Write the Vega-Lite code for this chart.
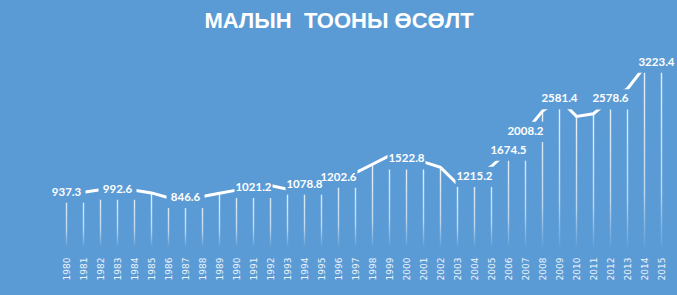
{
  "$schema": "https://vega.github.io/schema/vega-lite/v6.json",
  "width": 612,
  "height": 199,
  "autosize": {"type": "none"},
  "padding": {"left": 58, "top": 47, "right": 7, "bottom": 49},
  "background": "#5B9BD5",
  "config": {"view": {"stroke": null}},
  "title": {
    "text": "МАЛЫН\u00a0 ТООНЫ ӨСӨЛТ",
    "color": "white",
    "font": "Liberation Sans",
    "fontSize": 22,
    "fontWeight": "bold",
    "anchor": "middle",
    "dx": -25,
    "offset": -3,
    "baseline": "alphabetic"
  },
  "data": {
    "values": [
      {"year": 1980, "value": 937.3, "labeled": true},
      {"year": 1981, "value": 946, "labeled": false},
      {"year": 1982, "value": 988, "labeled": false},
      {"year": 1983, "value": 992.6, "labeled": true},
      {"year": 1984, "value": 980, "labeled": false},
      {"year": 1985, "value": 934, "labeled": false},
      {"year": 1986, "value": 848, "labeled": false},
      {"year": 1987, "value": 846.6, "labeled": true},
      {"year": 1988, "value": 872, "labeled": false},
      {"year": 1989, "value": 927, "labeled": false},
      {"year": 1990, "value": 983, "labeled": false},
      {"year": 1991, "value": 1021.2, "labeled": true},
      {"year": 1992, "value": 1065, "labeled": false},
      {"year": 1993, "value": 1000, "labeled": false},
      {"year": 1994, "value": 1078.8, "labeled": true},
      {"year": 1995, "value": 1140, "labeled": false},
      {"year": 1996, "value": 1202.6, "labeled": true},
      {"year": 1997, "value": 1285, "labeled": false},
      {"year": 1998, "value": 1438, "labeled": false},
      {"year": 1999, "value": 1590, "labeled": false},
      {"year": 2000, "value": 1522.8, "labeled": true},
      {"year": 2001, "value": 1480, "labeled": false},
      {"year": 2002, "value": 1382, "labeled": false},
      {"year": 2003, "value": 1090, "labeled": false},
      {"year": 2004, "value": 1215.2, "labeled": true},
      {"year": 2005, "value": 1400, "labeled": false},
      {"year": 2006, "value": 1674.5, "labeled": true},
      {"year": 2007, "value": 2008.2, "labeled": true},
      {"year": 2008, "value": 2372, "labeled": false},
      {"year": 2009, "value": 2581.4, "labeled": true},
      {"year": 2010, "value": 2279, "labeled": false},
      {"year": 2011, "value": 2326, "labeled": false},
      {"year": 2012, "value": 2578.6, "labeled": true},
      {"year": 2013, "value": 2765, "labeled": false},
      {"year": 2014, "value": 3150, "labeled": false},
      {"year": 2015, "value": 3223.4, "labeled": true}
    ]
  },
  "encoding": {
    "x": {
      "field": "year",
      "type": "ordinal",
      "scale": {"type": "point", "padding": 0.5},
      "axis": {
        "title": null,
        "domain": false,
        "ticks": false,
        "grid": false,
        "labelAngle": -90,
        "labelPadding": 11,
        "labelFont": "DejaVu Sans",
        "labelFontSize": 9,
        "labelColor": "#eef4fb"
      }
    },
    "y": {
      "field": "value",
      "type": "quantitative",
      "scale": {"domain": [0, 3500], "nice": false},
      "axis": null
    }
  },
  "layer": [
    {
      "mark": {
        "type": "bar",
        "width": 1.4,
        "fill": {
          "gradient": "linear",
          "x1": 0, "y1": 0, "x2": 0, "y2": 1,
          "stops": [
            {"offset": 0, "color": "rgba(255,255,255,0.85)"},
            {"offset": 0.7, "color": "rgba(255,255,255,0.6)"},
            {"offset": 1, "color": "rgba(255,255,255,0.05)"}
          ]
        }
      },
      "encoding": {"y": {"field": "value", "type": "quantitative", "stack": null}}
    },
    {
      "mark": {"type": "line", "color": "white", "strokeWidth": 3}
    },
    {
      "transform": [{"filter": "datum.labeled && datum.year != 2015"}],
      "mark": {"type": "point", "shape": "M-1,-0.53H1V0.53H-1Z", "size": 1444, "filled": true, "color": "#5B9BD5", "opacity": 1}
    },
    {
      "transform": [{"filter": "datum.labeled && datum.year != 2015"}],
      "mark": {"type": "text", "font": "Lato", "fontWeight": "bold", "fontSize": 11.5, "color": "white"},
      "encoding": {"text": {"field": "value", "type": "quantitative", "format": ".1f"}}
    },
    {
      "transform": [{"filter": "datum.year == 2015"}],
      "mark": {"type": "point", "shape": "M-1,-0.53H1V0.53H-1Z", "size": 1444, "filled": true, "color": "#5B9BD5", "opacity": 1, "xOffset": -5}
    },
    {
      "transform": [{"filter": "datum.year == 2015"}],
      "mark": {"type": "text", "font": "Lato", "fontWeight": "bold", "fontSize": 11.5, "color": "white", "xOffset": -5},
      "encoding": {"text": {"field": "value", "type": "quantitative", "format": ".1f"}}
    }
  ]
}
